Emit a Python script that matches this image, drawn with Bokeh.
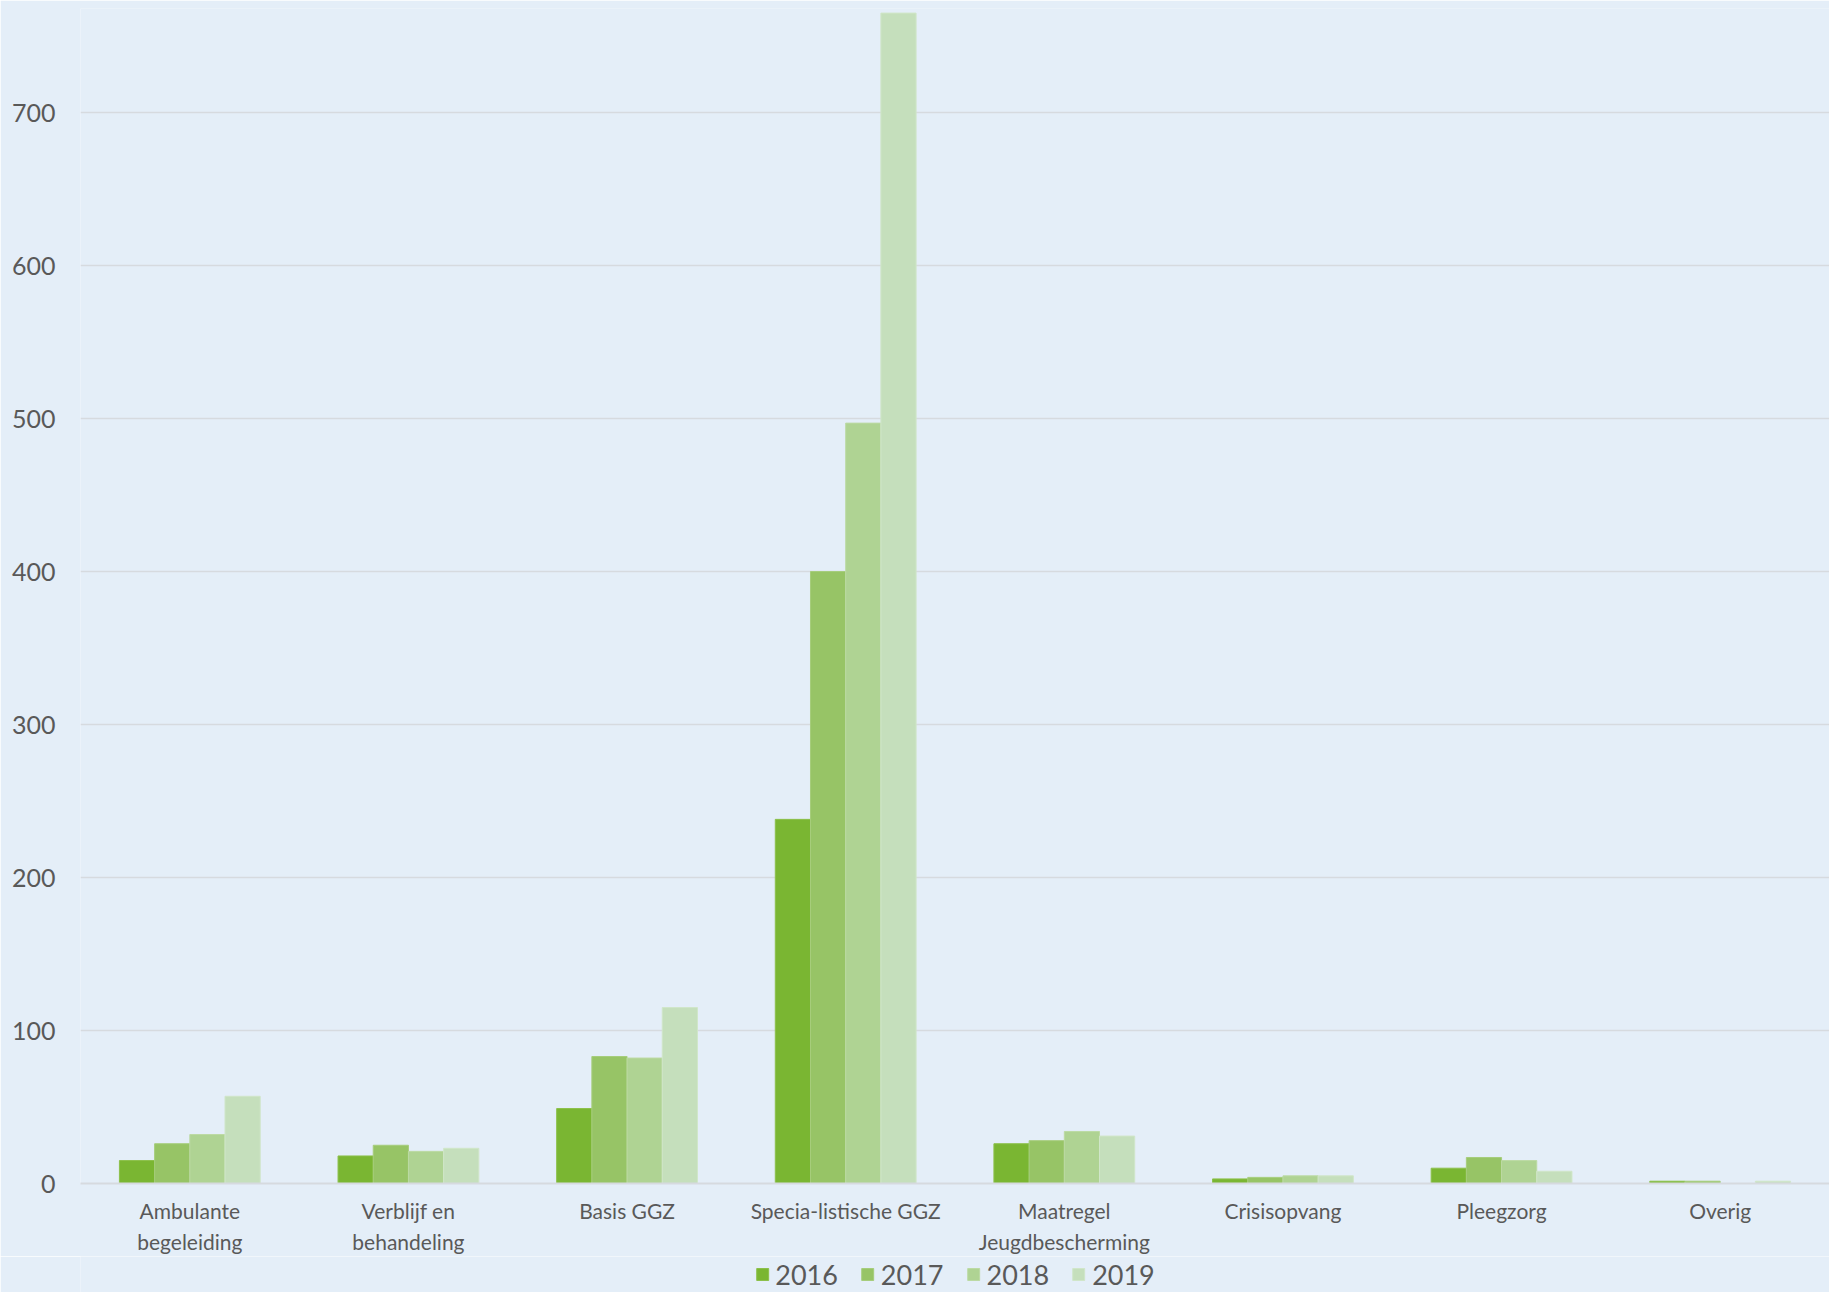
from bokeh.plotting import figure
from bokeh.layouts import column
from bokeh.models import FactorRange, Range1d, Legend, LegendItem, ColumnDataSource, FixedTicker
from bokeh.transform import dodge
from bokeh.embed import file_html
from bokeh.resources import INLINE

categories = ["Ambulante\nbegeleiding", "Verblijf en\nbehandeling", "Basis GGZ",
              "Specia-listische GGZ", "Maatregel\nJeugdbescherming", "Crisisopvang",
              "Pleegzorg", "Overig"]
years = ["2016", "2017", "2018", "2019"]
v2016 = [15, 18, 49, 238, 26, 3, 10, 1.5]
v2017 = [26, 25, 83, 400, 28, 4, 17, 1.5]
v2018 = [32, 21, 82, 497, 34, 5, 15, 0]
v2019 = [57, 23, 115, 765, 31, 5, 8, 1.5]
y_ticks = [0, 100, 200, 300, 400, 500, 600, 700]

colors = ["#7AB632", "#97C466", "#AFD393", "#C5DFBC"]
outline = ["#8CC04A", "#A6CD7C", "#BCDAA4", "#D0E6C9"]
BG = "#E4EEF8"
TXT = "#595959"
FONT = "Lato"

source = ColumnDataSource(dict(cat=categories, y2016=v2016, y2017=v2017, y2018=v2018, y2019=v2019))

p = figure(x_range=FactorRange(*categories, range_padding=0), y_range=Range1d(0, 768),
           frame_width=1749, frame_height=1175, output_backend="svg", toolbar_location=None,
           min_border_left=80, min_border_right=0, min_border_top=8, min_border_bottom=0,
           background_fill_color=BG, border_fill_color=BG, outline_line_color=None)

bw = 0.161
offsets = [-0.2415, -0.0805, 0.0805, 0.2415]
for i, yr in enumerate(years):
    p.vbar(x=dodge("cat", offsets[i], range=p.x_range), top="y" + yr, width=bw,
           source=source, fill_color=colors[i], line_color=outline[i], line_width=1)

p.xgrid.grid_line_color = None
p.ygrid.grid_line_color = "#D6DADF"
p.ygrid.grid_line_width = 1.5
p.yaxis.ticker = FixedTicker(ticks=y_ticks)

p.yaxis.axis_line_color = None
p.yaxis.major_tick_line_color = None
p.yaxis.minor_tick_line_color = None
p.yaxis.major_tick_out = 0
p.yaxis.major_label_standoff = 25
p.yaxis.major_label_text_font = FONT
p.yaxis.major_label_text_font_size = "25px"
p.yaxis.major_label_text_color = TXT

p.xaxis.axis_line_color = "#D6DADF"
p.xaxis.axis_line_width = 2
p.xaxis.major_tick_line_color = None
p.xaxis.major_tick_out = 0
p.xaxis.major_label_standoff = 14
p.xaxis.major_label_text_font = FONT
p.xaxis.major_label_text_font_size = "21px"
p.xaxis.major_label_text_color = TXT
p.xaxis.major_label_text_line_height = 1.25

# legend strip below the chart (swatch renderers sit outside the visible range)
lf = figure(width=1829, height=36, x_range=Range1d(0, 1), y_range=Range1d(0, 1),
            x_axis_type=None, y_axis_type=None, output_backend="svg", toolbar_location=None,
            min_border_left=0, min_border_right=0, min_border_top=0, min_border_bottom=0,
            background_fill_color=BG, border_fill_color=BG, outline_line_color=None)
lf.xgrid.grid_line_color = None
lf.ygrid.grid_line_color = None
swatch = ColumnDataSource(dict(x=[-5], top=[-5]))
lrs = [lf.vbar(x="x", top="top", bottom="top", width=0.1, source=swatch, fill_color=colors[i],
               line_color=outline[i]) for i in range(len(years))]
legend = Legend(items=[LegendItem(label=yr, renderers=[lrs[i]]) for i, yr in enumerate(years)],
                orientation="horizontal", location="center",
                glyph_width=15, glyph_height=15, label_standoff=6, spacing=22,
                padding=0, margin=0, border_line_color=None, background_fill_alpha=0,
                label_text_font=FONT, label_text_font_size="27px", label_text_color=TXT)
lf.add_layout(legend, "center")

layout = column(p, lf, spacing=0)
open("out.html", "w").write(file_html(layout, INLINE))
